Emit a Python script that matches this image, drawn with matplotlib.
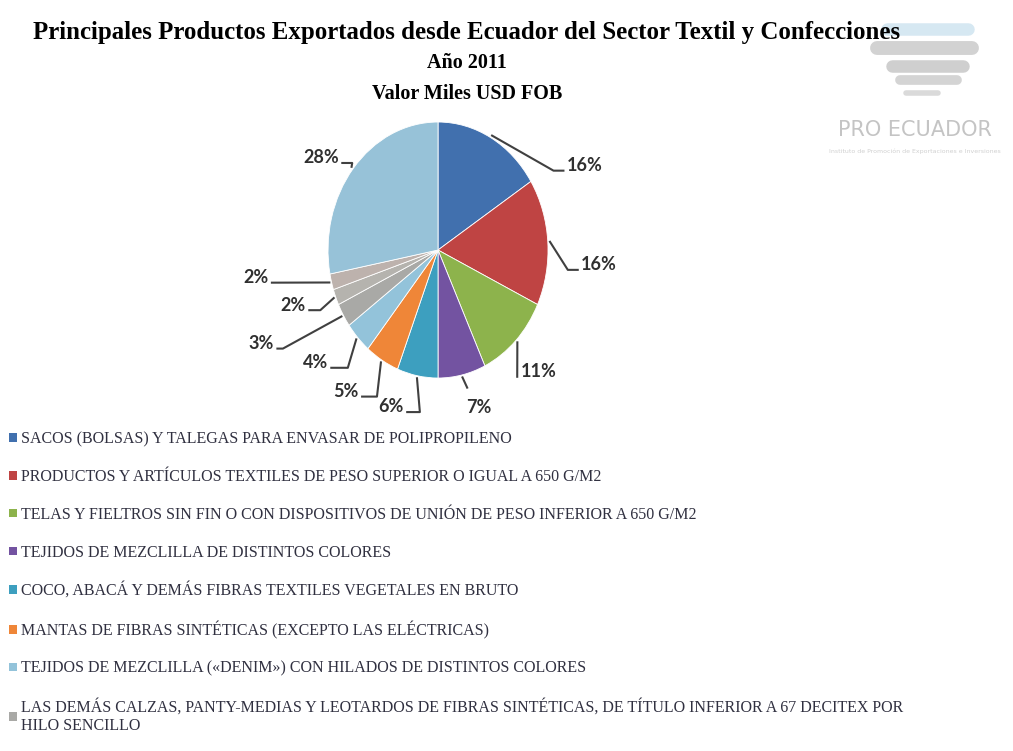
import matplotlib
matplotlib.use("Agg")
import matplotlib.pyplot as plt
import numpy as np
from matplotlib.patches import Patch

# Export shares 2011, clockwise from 12 o'clock
shares = [16, 16, 11, 7, 6, 5, 4, 3, 2, 2, 28]
colors = ["#4170ae", "#bf4443", "#8db34c", "#7353a1", "#3d9fbf", "#ef8638",
          "#93c3da", "#a9a9a6", "#b5b3ae", "#bdb2ad", "#97c2d8"]
legend_labels = [
    "SACOS (BOLSAS) Y TALEGAS PARA ENVASAR DE POLIPROPILENO",
    "PRODUCTOS Y ARTÍCULOS TEXTILES DE PESO SUPERIOR O IGUAL A 650 G/M2",
    "TELAS Y FIELTROS SIN FIN O CON DISPOSITIVOS DE UNIÓN DE PESO INFERIOR A 650 G/M2",
    "TEJIDOS DE MEZCLILLA DE DISTINTOS COLORES",
    "COCO, ABACÁ Y DEMÁS FIBRAS TEXTILES VEGETALES EN BRUTO",
    "MANTAS DE FIBRAS SINTÉTICAS (EXCEPTO LAS ELÉCTRICAS)",
    "TEJIDOS DE MEZCLILLA («DENIM») CON HILADOS DE DISTINTOS COLORES",
    "LAS DEMÁS CALZAS, PANTY-MEDIAS Y LEOTARDOS DE FIBRAS SINTÉTICAS, DE TÍTULO INFERIOR A 67 DECITEX POR\nHILO SENCILLO",
]

# label anchor (end of leader line) and elbow point, in pie axes units
label_pos = [(1.14, 0.62), (1.27, -0.155), (0.72, -0.99), (0.37, -1.23), (-0.28, -1.266),
             (-0.69, -1.145), (-0.97, -0.92), (-1.46, -0.77), (-1.17, -0.47), (-1.51, -0.255),
             (-0.87, 0.68)]
elbow_pos = [(1.05, 0.62), (1.18, -0.155), (0.72, -0.99), (0.265, -1.075), (-0.165, -1.266),
             (-0.555, -1.145), (-0.82, -0.92), (-1.41, -0.77), (-1.07, -0.47), (-1.50, -0.255),
             (-0.78, 0.68)]
ha_list = ["left", "left", "left", "center", "right", "right", "right", "right", "right",
           "right", "right"]

fig = plt.figure(figsize=(10.13, 7.51), dpi=100)
W, H = 1013, 751

# pie axes: centre at (438, 250) px, 110 px per unit in x, 128 px per unit in y
ax = fig.add_axes([220 / W, 1 - 430 / H, 440 / W, 330 / H])
wedges, _ = ax.pie(shares, colors=colors, startangle=90, counterclock=False, radius=1,
                   wedgeprops=dict(edgecolor="white", linewidth=0.6))
ax.set_aspect("auto")
ax.set_xlim(-1.982, 2.018)
ax.set_ylim(-1.406, 1.172)
ax.axis("off")

font_lbl = ["Lato", "DejaVu Sans"]
for w, s, (tx, ty), (ex, ey), ha in zip(wedges, shares, label_pos, elbow_pos, ha_list):
    ang = np.deg2rad((w.theta1 + w.theta2) / 2)
    x0, y0 = 1.02 * np.cos(ang), 1.02 * np.sin(ang)
    if ha == "center":
        ax.plot([x0, ex], [y0, ey], color="#404040", lw=1.5, clip_on=False)
        ax.text(tx, ty, f"{s}%", ha="center", va="center", fontsize=13, fontweight="bold",
                family=font_lbl, color="#303030")
        continue
    ax.plot([x0, ex, tx], [y0, ey, ty], color="#404040", lw=1.5, clip_on=False)
    gap = 0.03 if ha == "left" else -0.03
    ax.text(tx + gap, ty + 0.04, f"{s}%", ha=ha, va="center", fontsize=13,
            fontweight="bold", family=font_lbl, color="#303030")

# title
fig.text(0.461, 1 - 33 / H, "Principales Productos Exportados desde Ecuador del Sector Textil y Confecciones",
         ha="center", va="center", fontsize=17.9, fontweight="bold", family="Liberation Serif")
fig.text(0.461, 1 - 63 / H, "Año 2011", ha="center", va="center", fontsize=14.5,
         fontweight="bold", family="Liberation Serif")
fig.text(0.461, 1 - 94 / H, "Valor Miles USD FOB", ha="center", va="center", fontsize=14.5,
         fontweight="bold", family="Liberation Serif")

# logo
lax = fig.add_axes([820 / W, 1 - 170 / H, 190 / W, 160 / H])
lax.axis("off")
lax.set_xlim(0, 1)
lax.set_ylim(0, 1)
for (x1, x2, y), c, lw in zip([(0.35, 0.78, 0.88), (0.30, 0.80, 0.76), (0.38, 0.75, 0.65),
                               (0.42, 0.72, 0.56), (0.45, 0.62, 0.48)],
                              ["#d6e8f2", "#d2d2d2", "#cfcfcf", "#d4d4d4", "#dadada"],
                              [9, 10, 9, 7, 4]):
    lax.plot([x1, x2], [y, y], color=c, lw=lw, solid_capstyle="round")
lax.text(0.5, 0.25, "PRO ECUADOR", ha="center", va="center", fontsize=15,
         color="#c4c4c4", family="Liberation Sans Narrow")
lax.text(0.5, 0.12, "Instituto de Promoción de Exportaciones e Inversiones", ha="center",
         va="center", fontsize=4.5, color="#d0d0d0")

# legend
handles = [Patch(facecolor=c, edgecolor="none") for c in colors[:8]]
leg = fig.legend(handles, legend_labels, loc="upper left", bbox_to_anchor=(0.003, 1 - 425 / H),
                 frameon=False, prop=dict(family="Liberation Serif", size=11.5),
                 handlelength=0.45, handleheight=0.45, handletextpad=0.25,
                 labelspacing=1.36, borderaxespad=0)
for t in leg.get_texts():
    t.set_color("#303040")

fig.savefig("out.png", dpi=100)
